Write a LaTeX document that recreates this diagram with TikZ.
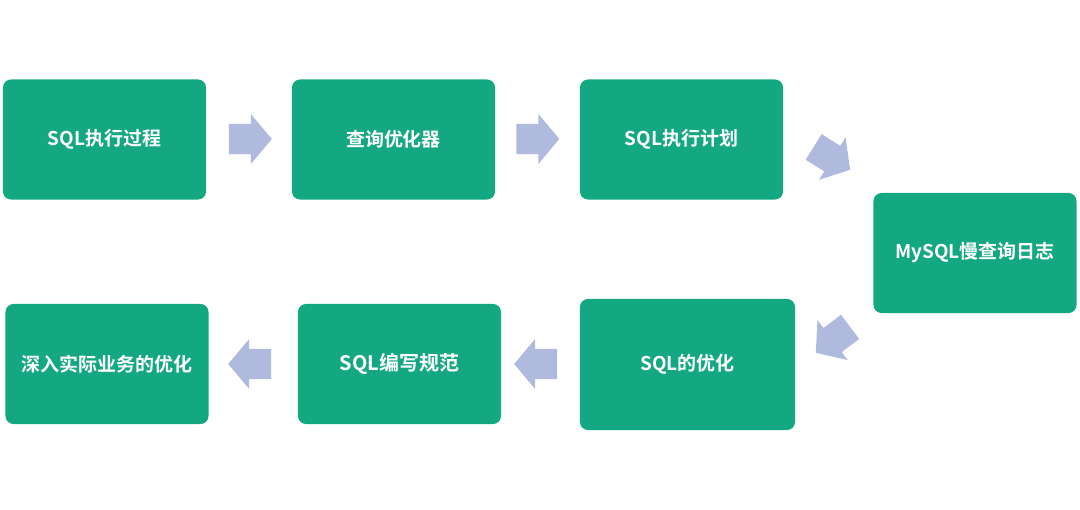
\documentclass[tikz,border=0pt]{standalone}
\usepackage{fontspec}
\newfontfamily\cjk{Noto Sans CJK SC Bold}
\usetikzlibrary{shapes.arrows}
\definecolor{boxgreen}{RGB}{20,168,130}
\definecolor{arrowblue}{RGB}{176,186,222}

\begin{document}
\begin{tikzpicture}[x=0.025cm, y=-0.025cm,
    box/.style={rectangle, rounded corners=0.2cm, fill=boxgreen, text=white,
        minimum width=5.075cm, minimum height=3cm,
        font=\cjk\fontsize{13.5}{16}\selectfont},
    blockarrow/.style={single arrow, fill=arrowblue, inner xsep=0pt, inner ysep=0.37cm,
        minimum height=1.075cm,
        single arrow head extend=0.25cm, single arrow tip angle=100}]
    % Page
    \useasboundingbox (0,0) rectangle (1080,510);

    % Top row
    \node[box] (process) at (104.5,139.5) {SQL执行过程};
    \node[box] (optimizer) at (393.5,139.5) {查询优化器};
    \node[box] (plan) at (681.5,139.5) {SQL执行计划};

    % Right side
    \node[box] (slowlog) at (975,253) {MySQL慢查询日志};

    % Bottom row
    \node[box, minimum width=5.375cm, minimum height=3.275cm] (tuning) at (687.5,364.5) {SQL的优化};
    \node[box, font=\cjk\fontsize{14.2}{16}\selectfont] (rules) at (399.5,364) {SQL编写规范};
    \node[box] (business) at (107,364) {深入实际业务的优化};

    % Arrows
    \node[blockarrow] (arr1) at (244,139) {};
    \node[blockarrow] (arr2) at (531.5,139) {};
    \node[blockarrow, rotate=-32] (arr3) at (826.5,155) {};
    \node[blockarrow, rotate=217] (arr4) at (838,336) {};
    \node[blockarrow, rotate=180] (arr5) at (542,364) {};
    \node[blockarrow, rotate=180] (arr6) at (256,364) {};
\end{tikzpicture}
\end{document}
